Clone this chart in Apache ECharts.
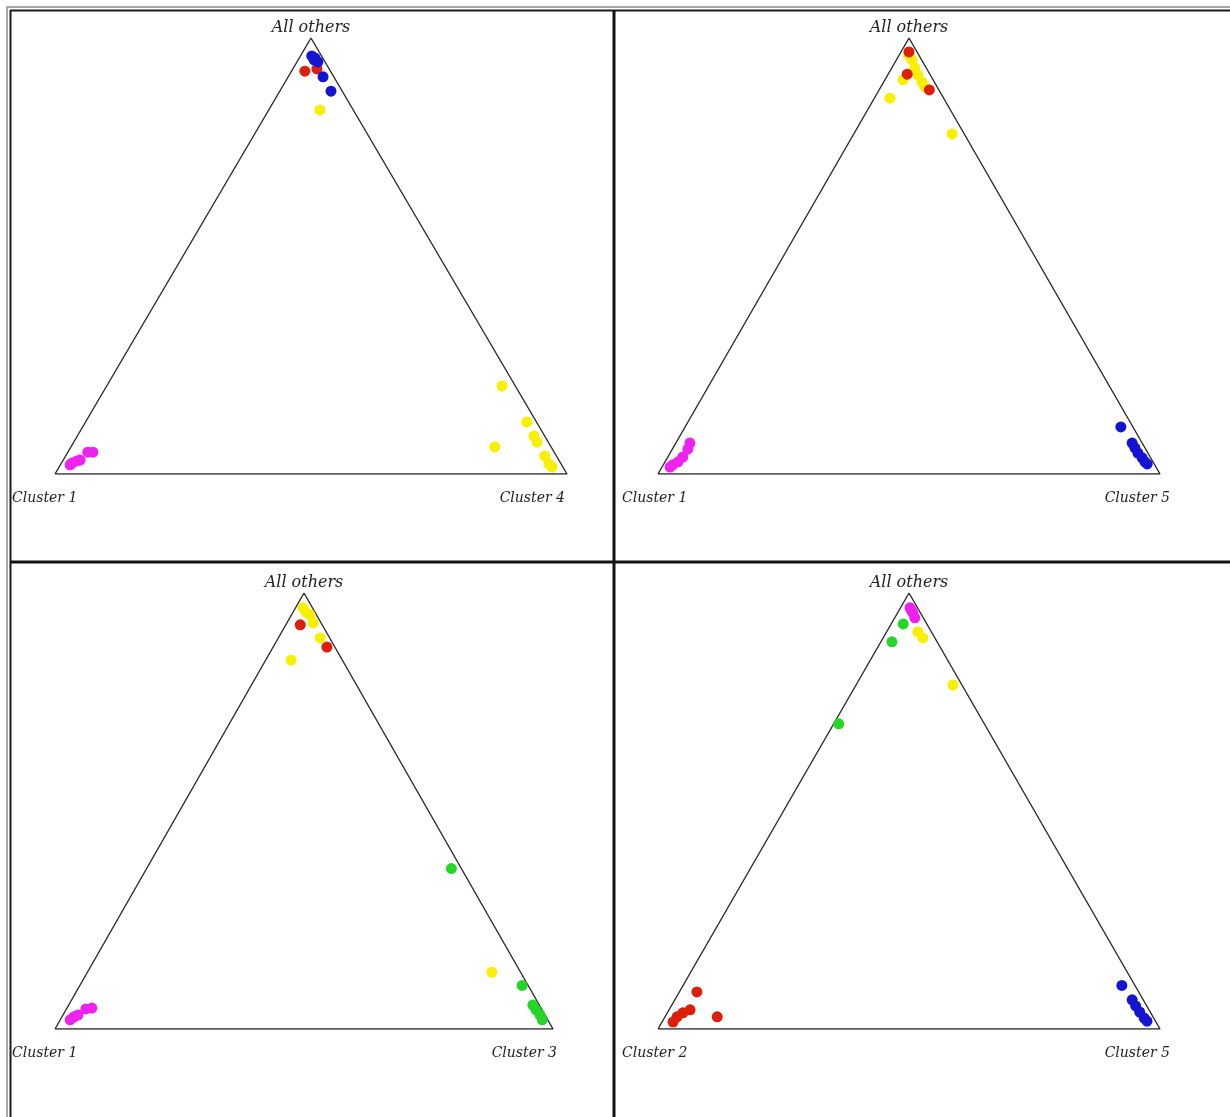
<!DOCTYPE html>
<html>
<head>
<meta charset="utf-8">
<script src="https://cdn.jsdelivr.net/npm/echarts@6/dist/echarts.min.js"></script>
<style>
  html, body { margin: 0; padding: 0; background: #fff; }
  #chart { width: 1230px; height: 1117px; }
</style>
</head>
<body>
<div id="chart"></div>
<script>
// Ternary memberships: each point is [share of right-hand cluster, share of "All others"];
// the left-hand cluster share is the remainder.
const topLabel = 'All others';
const cornerLabels = [
  ['Cluster 1', 'Cluster 4'],
  ['Cluster 1', 'Cluster 5'],
  ['Cluster 1', 'Cluster 3'],
  ['Cluster 2', 'Cluster 5']
];

// Panel 1: Cluster 1 vs Cluster 4
const p1Magenta = [[0.019, 0.021], [0.021, 0.025], [0.028, 0.030], [0.033, 0.032], [0.039, 0.050], [0.049, 0.050]];
const p1Red = [[0.026, 0.924], [0.047, 0.929]];
const p1Blue = [[0.022, 0.959], [0.031, 0.954], [0.031, 0.950], [0.041, 0.945], [0.068, 0.911], [0.100, 0.878]];
const p1Yellow = [[0.100, 0.835], [0.772, 0.202], [0.862, 0.119], [0.892, 0.087], [0.905, 0.073],
                  [0.828, 0.062], [0.936, 0.041], [0.953, 0.023], [0.963, 0.016]];

// Panel 2: Cluster 1 vs Cluster 5
const p2Magenta = [[0.016, 0.016], [0.019, 0.021], [0.026, 0.028], [0.030, 0.039], [0.031, 0.057], [0.028, 0.071]];
const p2Yellow = [[0.019, 0.961], [0.031, 0.950], [0.046, 0.931], [0.060, 0.915], [0.076, 0.899],
                  [0.088, 0.888], [0.036, 0.904], [0.031, 0.862], [0.196, 0.780]];
const p2Red = [[0.016, 0.968], [0.038, 0.917], [0.100, 0.881]];
const p2Blue = [[0.868, 0.108], [0.909, 0.071], [0.920, 0.060], [0.932, 0.048], [0.946, 0.037],
                [0.956, 0.028], [0.963, 0.023]];

// Panel 3: Cluster 1 vs Cluster 3
const p3Magenta = [[0.020, 0.021], [0.024, 0.028], [0.030, 0.032], [0.039, 0.046], [0.050, 0.048]];
const p3Yellow = [[0.015, 0.966], [0.026, 0.956], [0.037, 0.950], [0.053, 0.931], [0.084, 0.897],
                  [0.051, 0.846], [0.812, 0.130]];
const p3Red = [[0.029, 0.927], [0.108, 0.876]];
const p3Green = [[0.612, 0.368], [0.888, 0.100], [0.932, 0.055], [0.944, 0.044], [0.958, 0.032], [0.968, 0.021]];

// Panel 4: Cluster 2 vs Cluster 5
const p4Red = [[0.035, 0.085], [0.022, 0.016], [0.024, 0.028], [0.031, 0.037], [0.042, 0.044], [0.104, 0.028]];
const p4Green = [[0.024, 0.929], [0.022, 0.888], [0.010, 0.700]];
const p4Magenta = [[0.019, 0.966], [0.025, 0.960], [0.031, 0.954], [0.040, 0.943]];
const p4Yellow = [[0.062, 0.911], [0.079, 0.897], [0.193, 0.789]];
const p4Blue = [[0.874, 0.100], [0.911, 0.067], [0.925, 0.053], [0.940, 0.039], [0.956, 0.025], [0.965, 0.018]];

const COLORS = {
  magenta: '#ee22ee',
  red: '#dc1e0a',
  blue: '#1414d2',
  yellow: '#f8f000',
  green: '#26d626'
};

// Drawing order per panel (later entries drawn on top)
const panelSeries = [
  [['magenta', p1Magenta], ['yellow', p1Yellow], ['red', p1Red], ['blue', p1Blue]],
  [['magenta', p2Magenta], ['yellow', p2Yellow], ['red', p2Red], ['blue', p2Blue]],
  [['magenta', p3Magenta], ['yellow', p3Yellow], ['red', p3Red], ['green', p3Green]],
  [['red', p4Red], ['green', p4Green], ['yellow', p4Yellow], ['magenta', p4Magenta], ['blue', p4Blue]]
];

// Triangle frames: left vertex x, apex y, base width, height; and label anchors
const layout = [
  { left: 55,  top: 38,  width: 512, height: 436, leftLabelX: 12,  rightLabelX: 565 },
  { left: 658, top: 38,  width: 502, height: 436, leftLabelX: 622, rightLabelX: 1170 },
  { left: 55,  top: 593, width: 498, height: 436, leftLabelX: 12,  rightLabelX: 557 },
  { left: 658, top: 593, width: 502, height: 436, leftLabelX: 622, rightLabelX: 1170 }
];

// ternary [right share, others share] -> unit-triangle coordinates
function toXY(p) { return [p[0] + p[1] / 2, p[1]]; }

const grids = [], xAxes = [], yAxes = [], series = [], graphics = [];
const topFont = 'italic 16px "DejaVu Serif", "Liberation Serif", serif';
const cornerFont = 'italic 14px "DejaVu Serif", "Liberation Serif", serif';

layout.forEach((g, i) => {
  grids.push({ left: g.left, top: g.top, width: g.width, height: g.height });
  xAxes.push({ type: 'value', gridIndex: i, min: 0, max: 1, show: false });
  yAxes.push({ type: 'value', gridIndex: i, min: 0, max: 1, show: false });

  series.push({
    type: 'line', xAxisIndex: i, yAxisIndex: i, silent: true, symbol: 'none',
    data: [[0, 0], [1, 0], [0.5, 1], [0, 0]],
    lineStyle: { color: '#2a2a2a', width: 1.4 }, z: 1
  });

  panelSeries[i].forEach(([c, pts], k) => {
    series.push({
      type: 'scatter', xAxisIndex: i, yAxisIndex: i, symbolSize: 11,
      data: pts.map(toXY),
      itemStyle: { color: COLORS[c], opacity: 1 }, z: 2 + k
    });
  });

  const baseY = g.top + g.height;
  graphics.push(
    { type: 'text', x: g.left + g.width / 2, y: g.top - 10,
      style: { text: topLabel, font: topFont, fill: '#222', textAlign: 'center', textVerticalAlign: 'middle' } },
    { type: 'text', x: g.leftLabelX, y: baseY + 24,
      style: { text: cornerLabels[i][0], font: cornerFont, fill: '#222', textAlign: 'left', textVerticalAlign: 'middle' } },
    { type: 'text', x: g.rightLabelX, y: baseY + 24,
      style: { text: cornerLabels[i][1], font: cornerFont, fill: '#222', textAlign: 'right', textVerticalAlign: 'middle' } }
  );
});

// Outer frame (double line on left/top) and panel dividers
const frame = [
  { x1: 7, y1: 6, x2: 7, y2: 1117, stroke: '#a8a8a8', w: 2 },
  { x1: 6, y1: 7, x2: 1230, y2: 7, stroke: '#a8a8a8', w: 2 },
  { x1: 10.5, y1: 10, x2: 10.5, y2: 1117, stroke: '#1a1a1a', w: 2 },
  { x1: 10, y1: 10.5, x2: 1230, y2: 10.5, stroke: '#1a1a1a', w: 2 },
  { x1: 614, y1: 10, x2: 614, y2: 1117, stroke: '#111', w: 3 },
  { x1: 10, y1: 562, x2: 1230, y2: 562, stroke: '#111', w: 3 }
];
frame.forEach(f => graphics.push({
  type: 'line', shape: { x1: f.x1, y1: f.y1, x2: f.x2, y2: f.y2 },
  style: { stroke: f.stroke, lineWidth: f.w }, silent: true
}));

const chart = echarts.init(document.getElementById('chart'), null, { renderer: 'canvas' });
chart.setOption({
  animation: false,
  backgroundColor: '#fff',
  grid: grids,
  xAxis: xAxes,
  yAxis: yAxes,
  series: series,
  graphic: graphics
});
</script>
</body>
</html>
